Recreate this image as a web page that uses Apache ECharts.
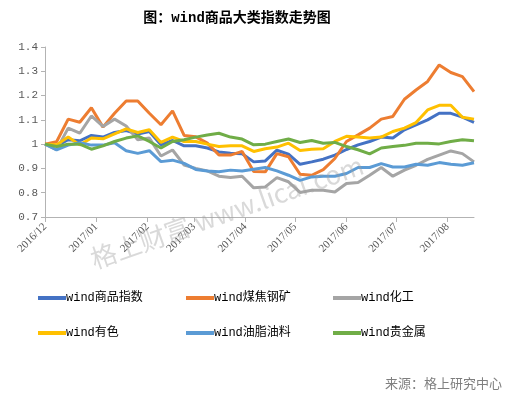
<!DOCTYPE html>
<html>
<head>
<meta charset="utf-8">
<script src="https://cdn.jsdelivr.net/npm/echarts@6/dist/echarts.min.js"></script>
<style>html,body{margin:0;padding:0;background:#fff;}#c{width:508px;height:398px;}</style>
</head>
<body>
<div id="c"></div>
<script>
const dates = ['2016-12-01','2016-12-08','2016-12-15','2016-12-22','2016-12-29',
  '2017-01-05','2017-01-12','2017-01-19','2017-01-26',
  '2017-02-02','2017-02-09','2017-02-16','2017-02-23',
  '2017-03-02','2017-03-09','2017-03-16','2017-03-23','2017-03-30',
  '2017-04-06','2017-04-13','2017-04-20','2017-04-27',
  '2017-05-04','2017-05-11','2017-05-18','2017-05-25',
  '2017-06-01','2017-06-08','2017-06-15','2017-06-22','2017-06-29',
  '2017-07-06','2017-07-13','2017-07-20','2017-07-27',
  '2017-08-03','2017-08-10','2017-08-17'];

const seriesNames = ['wind商品指数','wind煤焦钢矿','wind化工','wind有色','wind油脂油料','wind贵金属'];

const commodity = [1.0,0.993,1.018,1.014,1.036,1.029,1.048,1.056,1.042,1.052,0.997,1.015,0.993,0.993,0.984,0.968,0.963,0.96,0.927,0.931,0.975,0.959,0.917,0.927,0.938,0.955,0.978,0.997,1.011,1.029,1.025,1.059,1.079,1.1,1.127,1.127,1.111,1.09];
const coalSteel = [1.0,1.01,1.103,1.09,1.15,1.07,1.127,1.178,1.178,1.127,1.08,1.137,1.036,1.03,1.004,0.955,0.955,0.97,0.887,0.886,0.961,0.948,0.876,0.872,0.895,0.941,1.011,1.038,1.066,1.103,1.114,1.185,1.223,1.258,1.326,1.295,1.278,1.216];
const chemical = [1.0,0.977,1.066,1.045,1.116,1.073,1.103,1.075,1.018,1.025,0.951,0.976,0.914,0.9,0.89,0.868,0.863,0.868,0.82,0.824,0.862,0.845,0.801,0.81,0.81,0.803,0.838,0.842,0.872,0.904,0.868,0.893,0.913,0.937,0.955,0.972,0.961,0.927];
const nonferrous = [1.0,0.997,1.029,0.997,1.025,1.022,1.042,1.063,1.048,1.059,1.007,1.029,1.011,1.011,1.0,0.99,0.993,0.993,0.97,0.981,0.988,1.004,0.974,0.979,0.981,1.011,1.032,1.029,1.025,1.029,1.052,1.066,1.089,1.141,1.16,1.16,1.111,1.103];
const oilseed = [1.0,0.976,0.996,1.006,0.996,0.996,1.006,0.973,0.962,0.973,0.928,0.934,0.921,0.896,0.889,0.886,0.893,0.889,0.897,0.904,0.89,0.872,0.851,0.865,0.868,0.868,0.879,0.904,0.904,0.92,0.906,0.906,0.917,0.913,0.924,0.917,0.913,0.923];
const precious = [1.0,0.99,1.0,1.0,0.979,0.993,1.011,1.025,1.034,1.011,0.984,1.011,1.018,1.029,1.038,1.045,1.029,1.021,0.997,1.0,1.011,1.021,1.007,1.015,1.004,1.007,0.99,0.977,0.96,0.984,0.99,0.995,1.004,1.004,1.001,1.011,1.018,1.014];

const yTicks = [0.7,0.8,0.9,1.0,1.1,1.2,1.3,1.4];
const colors = ['#4472C4','#ED7D31','#A5A5A5','#FFC000','#5B9BD5','#70AD47'];
const allValues = [commodity, coalSteel, chemical, nonferrous, oilseed, precious];

const chart = echarts.init(document.getElementById('c'), null, {renderer:'canvas'});
const DAY = 86400000;
const legendPos = [[33,287],[181,287],[328,287],[33,322],[181,322],[328,322]];
const fontMix = "'Liberation Mono','Noto Sans CJK SC',monospace";

const option = {
  animation:false,
  backgroundColor:'#ffffff',
  title:{
    text:'图：wind商品大类指数走势图',
    left:232, top:6, textAlign:'center',
    textStyle:{fontFamily:fontMix, fontSize:14, fontWeight:'bold', color:'#000'}
  },
  grid:{left:45, right:34, top:47, bottom:181, containLabel:false},
  legend: seriesNames.map((n,i)=>({
    data:[n], left:legendPos[i][0], top:legendPos[i][1],
    icon:'rect', itemWidth:28, itemHeight:4, itemGap:0,
    textStyle:{fontFamily:fontMix, fontSize:12, color:'#000', padding:[0,0,0,-5]}
  })),
  xAxis:{
    type:'time',
    min:new Date(2016,11,1).getTime(),
    max:new Date(2017,7,17).getTime(),
    minInterval:28*DAY, maxInterval:31*DAY,
    splitLine:{show:false},
    axisLine:{lineStyle:{color:'#b3b3b3', width:1}},
    axisTick:{show:true, length:5, lineStyle:{color:'#b3b3b3'}},
    axisLabel:{
      rotate:45, fontSize:11, color:'#595959', fontFamily:"'Liberation Serif',serif", margin:8,
      hideOverlap:false,
      formatter:function(v){const d=new Date(v);return d.getFullYear()+'/'+String(d.getMonth()+1).padStart(2,'0');}
    }
  },
  yAxis:{
    type:'value', min:yTicks[0], max:yTicks[yTicks.length-1], interval:0.1,
    splitLine:{show:false},
    axisLine:{show:true, lineStyle:{color:'#b3b3b3', width:1}},
    axisTick:{show:true, length:4, lineStyle:{color:'#b3b3b3'}},
    axisLabel:{fontSize:11, color:'#595959', fontFamily:"'Liberation Mono',monospace", margin:7,
      formatter:function(v){return String(Math.round(v*10)/10);}}
  },
  graphic:[
    {type:'text', z:100,
      position:[227,212], rotation:19.5*Math.PI/180,
      style:{text:'格上财富 www.licai.com', fontSize:26, fontFamily:"'Noto Sans CJK SC',sans-serif",
        fill:'rgba(160,160,160,0.4)', textAlign:'center', textVerticalAlign:'middle'}},
    {type:'text', right:6, top:377,
      style:{text:'来源：格上研究中心', fontSize:13, fontFamily:"'Noto Sans CJK SC',sans-serif", fill:'#7f7f7f'}}
  ],
  series: seriesNames.map((n,i)=>({
    name:n, type:'line', showSymbol:false, symbol:'none',
    data: dates.map((d,k)=>[d, allValues[i][k]]),
    lineStyle:{width:3, color:colors[i]},
    itemStyle:{color:colors[i]}
  }))
};
chart.setOption(option);
</script>
</body>
</html>
